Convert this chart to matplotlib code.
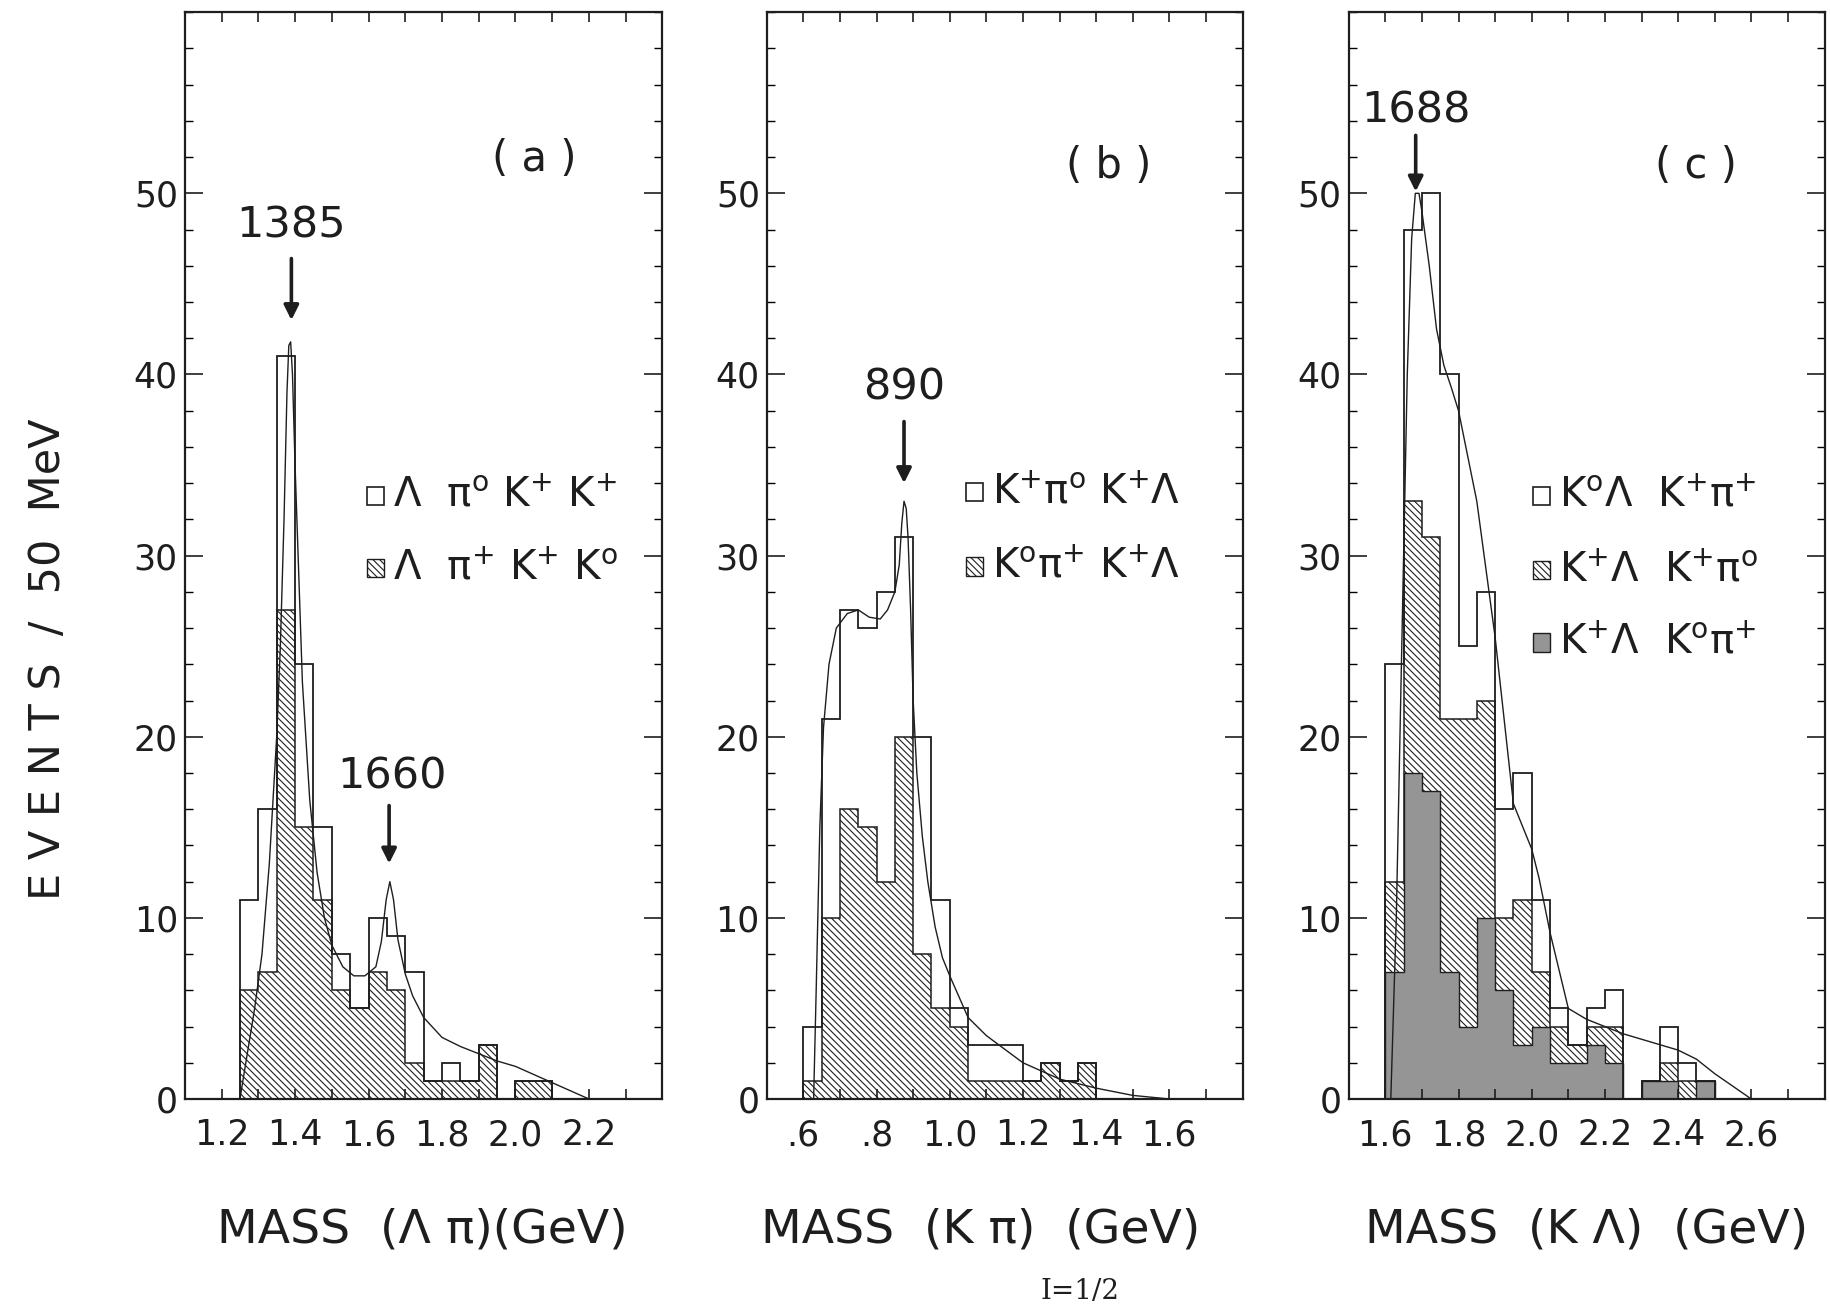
import numpy as np
import matplotlib
matplotlib.use('Agg')
import matplotlib.pyplot as plt
from matplotlib.patches import Rectangle
from matplotlib.ticker import FixedLocator, MultipleLocator

plt.rcParams['font.family'] = ['DejaVu Sans']
plt.rcParams['mathtext.default'] = 'regular'
plt.rcParams['hatch.linewidth'] = 0.8

INK = '#1e1e1e'
DARK = '#959595'
HATCH = '\\\\\\\\\\'
BIN = 0.05

# (a) mass (Lambda pi), bins of 50 MeV from 1.25 GeV
a_start = 1.25
a_total = [11, 16, 41, 24, 15, 8, 5, 10, 9, 7, 1, 2, 1, 3, 0, 1, 1]
a_hatch = [6, 7, 27, 15, 11, 6, 5, 7, 6, 2, 1, 1, 1, 3, 0, 1, 1]
a_fit_x = [1.25, 1.27, 1.29, 1.31, 1.33, 1.35, 1.36, 1.37, 1.378, 1.383, 1.388, 1.393,
           1.40, 1.41, 1.42, 1.44, 1.46, 1.48, 1.50, 1.53, 1.56, 1.59, 1.62, 1.635,
           1.648, 1.658, 1.668, 1.68, 1.70, 1.72, 1.75, 1.80, 1.85, 1.90, 1.95, 2.00,
           2.05, 2.10, 2.15, 2.20]
a_fit_y = [0, 2.5, 5, 8, 13, 20, 25, 32, 39, 41.6, 41.8, 40, 35, 29, 23, 16.5, 12.5,
           10, 8.5, 7.3, 6.8, 6.8, 7.3, 8.7, 11, 12, 11, 8.8, 6.9, 5.7, 4.5, 3.4, 2.9,
           2.5, 2.1, 1.8, 1.35, 0.9, 0.45, 0]

# (b) mass (K pi), bins of 50 MeV from 0.60 GeV
b_start = 0.60
b_total = [4, 21, 27, 26, 28, 31, 20, 11, 5, 3, 3, 3, 1, 2, 1, 2]
b_hatch = [1, 10, 16, 15, 12, 20, 8, 5, 4, 1, 1, 1, 1, 2, 1, 2]
b_fit_x = [0.628, 0.635, 0.645, 0.655, 0.67, 0.69, 0.72, 0.75, 0.78, 0.81, 0.83, 0.85,
           0.862, 0.869, 0.875, 0.881, 0.886, 0.893, 0.90, 0.91, 0.925, 0.94, 0.96,
           0.98, 1.00, 1.05, 1.10, 1.20, 1.30, 1.40, 1.50, 1.60]
b_fit_y = [0, 6, 15, 20.5, 24, 26, 26.8, 27, 26.6, 26.5, 27, 28, 29.5, 31.8, 33, 32.6,
           31, 27, 22, 18, 14.5, 12, 9.5, 7.8, 6.8, 4.5, 3.5, 2.0, 1.1, 0.6, 0.2, 0]

# (c) mass (K Lambda), bins of 50 MeV from 1.60 GeV
c_start = 1.60
c_total = [24, 48, 50, 40, 25, 28, 16, 18, 11, 5, 3, 5, 6, 0, 1, 4, 2, 1]
c_hatch = [12, 33, 31, 21, 21, 22, 10, 11, 7, 4, 3, 4, 4, 0, 1, 2, 1, 1]
c_dark = [7, 18, 17, 7, 4, 10, 6, 3, 4, 2, 2, 3, 2, 0, 1, 1, 0, 1]
c_fit_x = [1.615, 1.63, 1.645, 1.66, 1.672, 1.682, 1.692, 1.70, 1.72, 1.74, 1.76, 1.78,
           1.80, 1.85, 1.90, 1.95, 2.00, 2.02, 2.05, 2.10, 2.15, 2.25, 2.35, 2.40,
           2.45, 2.50, 2.55, 2.60]
c_fit_y = [0, 10, 25, 40, 47.5, 50, 50, 49, 46, 42.5, 40.5, 39.3, 38, 33, 25.5, 16.3,
           13.8, 12.2, 9.2, 5, 4.4, 3.6, 3.0, 2.7, 2.2, 1.4, 0.7, 0]


def edges_from(start, n):
    return start + BIN * np.arange(n + 1)


def setup_axes(ax, xlim, xt, xtl, xminor):
    ax.set_xlim(*xlim)
    ax.set_ylim(0, 60)
    ax.xaxis.set_major_locator(FixedLocator(xt))
    ax.set_xticklabels(xtl)
    ax.xaxis.set_minor_locator(FixedLocator(xminor))
    ax.yaxis.set_major_locator(FixedLocator([0, 10, 20, 30, 40, 50]))
    ax.yaxis.set_minor_locator(MultipleLocator(2))
    ax.tick_params(axis='x', which='both', direction='in', length=7, width=1.2,
                   top=True, labelsize=25, pad=14, colors=INK)
    ax.tick_params(axis='y', which='major', direction='in', length=13, width=1.2,
                   right=True, labelsize=25, pad=5, colors=INK)
    ax.tick_params(axis='y', which='minor', direction='in', length=6, width=1.0,
                   right=True)
    for s in ax.spines.values():
        s.set_linewidth(1.6)
        s.set_color(INK)


def legend_row(ax, x, y, text, kind):
    w, h = 0.045, 1.0
    if kind == 'open':
        r = Rectangle((x, y - h / 2), w, h, facecolor='white', edgecolor=INK, lw=1.2)
    elif kind == 'hatch':
        r = Rectangle((x, y - h / 2), w, h, facecolor='white', edgecolor=INK, lw=1.0,
                      hatch=HATCH)
    else:
        r = Rectangle((x, y - h / 2), w, h, facecolor=DARK, edgecolor=INK, lw=1.0)
    ax.add_patch(r)
    ax.text(x + 0.07, y, text, fontsize=29, va='center', ha='left', color=INK)


def arrow(ax, x, y_tail, y_tip):
    ax.annotate('', xy=(x, y_tip), xytext=(x, y_tail),
                arrowprops=dict(arrowstyle='-|>', lw=2.6, color=INK,
                                mutation_scale=22, shrinkA=0, shrinkB=0))


fig = plt.figure(figsize=(18.3, 13.11), dpi=100)
fig.patch.set_facecolor('white')

ax_a = fig.add_axes([0.101, 0.1617, 0.261, 0.829])
ax_b = fig.add_axes([0.419, 0.1617, 0.260, 0.829])
ax_c = fig.add_axes([0.737, 0.1617, 0.260, 0.829])

# ---- panel (a)
ea = edges_from(a_start, len(a_total))
ax_a.stairs(a_hatch, ea, fill=True, facecolor='white', edgecolor=INK, hatch=HATCH, lw=1.1)
ax_a.stairs(a_total, ea, fill=False, color=INK, lw=1.3)
ax_a.plot(a_fit_x, a_fit_y, color=INK, lw=1.0)
setup_axes(ax_a, (1.1, 2.4), [1.2, 1.4, 1.6, 1.8, 2.0, 2.2],
           ['1.2', '1.4', '1.6', '1.8', '2.0', '2.2'],
           [1.3, 1.5, 1.7, 1.9, 2.1, 2.3])
ax_a.text(2.05, 51.9, '( a )', fontsize=30, ha='center', va='center', color=INK)
ax_a.text(1.39, 48.2, '1385', fontsize=31, ha='center', va='center', color=INK)
arrow(ax_a, 1.39, 46.4, 43.0)
ax_a.text(1.665, 17.8, '1660', fontsize=31, ha='center', va='center', color=INK)
arrow(ax_a, 1.656, 16.2, 13.0)
legend_row(ax_a, 1.597, 33.3, r'$\Lambda\ \ \pi^{o}\ K^{+}\ K^{+}$', 'open')
legend_row(ax_a, 1.597, 29.3, r'$\Lambda\ \ \pi^{+}\ K^{+}\ K^{o}$', 'hatch')

# ---- panel (b)
eb = edges_from(b_start, len(b_total))
ax_b.stairs(b_hatch, eb, fill=True, facecolor='white', edgecolor=INK, hatch=HATCH, lw=1.1)
ax_b.stairs(b_total, eb, fill=False, color=INK, lw=1.3)
ax_b.plot(b_fit_x, b_fit_y, color=INK, lw=1.0)
setup_axes(ax_b, (0.5, 1.8), [0.6, 0.8, 1.0, 1.2, 1.4, 1.6],
           ['.6', '.8', '1.0', '1.2', '1.4', '1.6'],
           [0.7, 0.9, 1.1, 1.3, 1.5, 1.7])
ax_b.text(1.435, 51.5, '( b )', fontsize=30, ha='center', va='center', color=INK)
ax_b.text(0.875, 39.3, '890', fontsize=31, ha='center', va='center', color=INK)
arrow(ax_b, 0.875, 37.4, 34.0)
legend_row(ax_b, 1.045, 33.5, r'$K^{+}\pi^{o}\ K^{+}\Lambda$', 'open')
legend_row(ax_b, 1.045, 29.4, r'$K^{o}\pi^{+}\ K^{+}\Lambda$', 'hatch')

# ---- panel (c)
ec = edges_from(c_start, len(c_total))
ax_c.stairs(c_hatch, ec, fill=True, facecolor='white', edgecolor=INK, hatch=HATCH, lw=1.1)
ax_c.stairs(c_dark, ec, fill=True, facecolor=DARK, edgecolor=INK, lw=1.0)
ax_c.stairs(c_total, ec, fill=False, color=INK, lw=1.3)
ax_c.plot(c_fit_x, c_fit_y, color=INK, lw=1.0)
setup_axes(ax_c, (1.5, 2.8), [1.6, 1.8, 2.0, 2.2, 2.4, 2.6],
           ['1.6', '1.8', '2.0', '2.2', '2.4', '2.6'],
           [1.7, 1.9, 2.1, 2.3, 2.5, 2.7])
ax_c.text(2.45, 51.5, '( c )', fontsize=30, ha='center', va='center', color=INK)
ax_c.text(1.683, 54.6, '1688', fontsize=31, ha='center', va='center', color=INK)
arrow(ax_c, 1.683, 53.2, 50.1)
legend_row(ax_c, 2.004, 33.3, r'$K^{o}\Lambda\ \ K^{+}\pi^{+}$', 'open')
legend_row(ax_c, 2.004, 29.2, r'$K^{+}\Lambda\ \ K^{+}\pi^{o}$', 'hatch')
legend_row(ax_c, 2.004, 25.2, r'$K^{+}\Lambda\ \ K^{o}\pi^{+}$', 'dark')

# ---- axis titles
fig.text(0.026, 0.497, 'E V E N T S  /  50  MeV', rotation=90, fontsize=31,
         ha='center', va='center', color=INK)
fig.text(0.231, 0.062, 'MASS  (\u039b \u03c0)(GeV)', fontsize=34, ha='center',
         va='center', color=INK)
fig.text(0.536, 0.062, 'MASS  (K \u03c0)  (GeV)', fontsize=34, ha='center',
         va='center', color=INK)
fig.text(0.867, 0.062, 'MASS  (K \u039b)  (GeV)', fontsize=34, ha='center',
         va='center', color=INK)
fig.text(0.590, 0.015, 'I=1/2', fontsize=20, family='DejaVu Serif', ha='center',
         va='center', color=INK)

fig.savefig('out.png', dpi=100, facecolor='white')
